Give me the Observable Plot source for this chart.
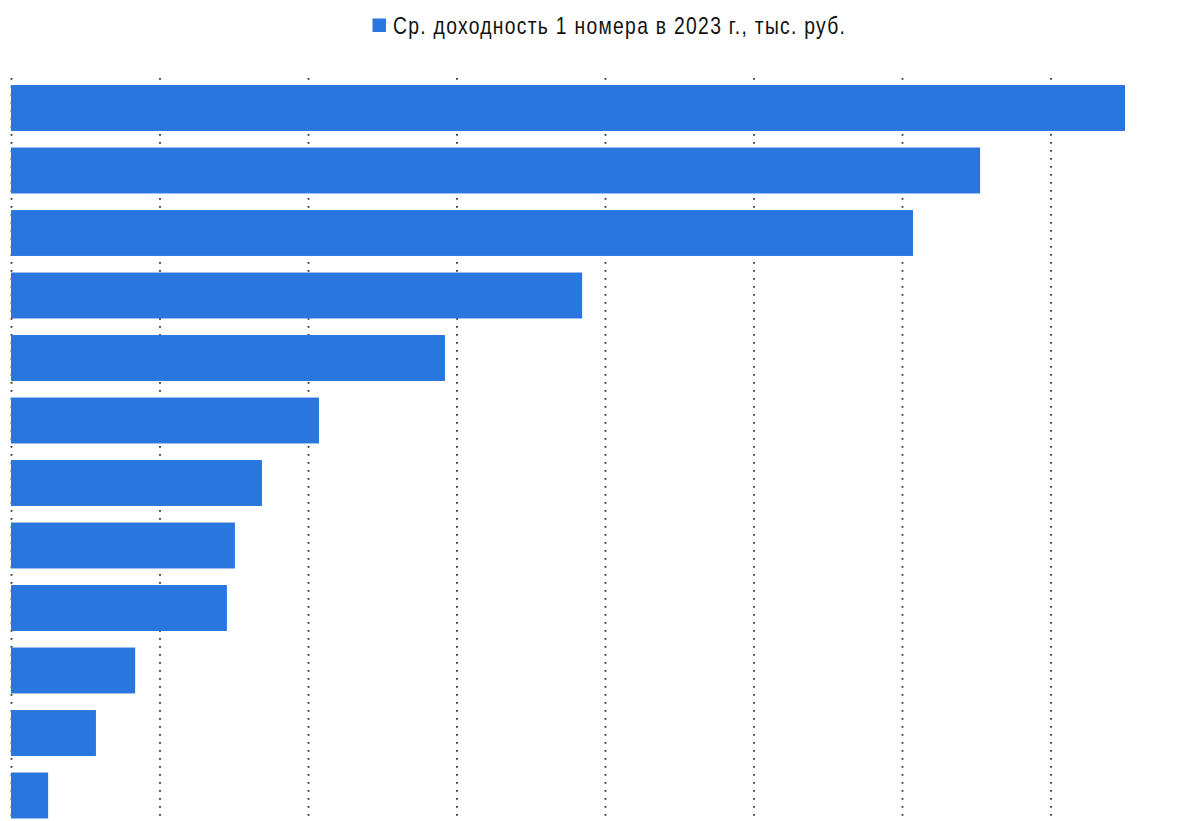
<!DOCTYPE html>
<html>
<head>
<meta charset="utf-8">
<script src="https://cdn.jsdelivr.net/npm/d3@7"></script>
<script src="https://cdn.jsdelivr.net/npm/@observablehq/plot@0.6"></script>
<style>
  html, body { margin: 0; padding: 0; background: #fff; overflow: hidden; width: 1189px; height: 821px; }
  #legend { position: absolute; left: 0; top: 0; }
  #chart { position: absolute; left: 0; top: 60px; }
</style>
</head>
<body>
<svg id="legend" width="1189" height="60" xmlns="http://www.w3.org/2000/svg">
  <rect x="372.5" y="18.5" width="13.5" height="13.5" fill="#2977DE"></rect>
  <text id="legendText" x="0" y="0" transform="translate(393,34.3) scale(0.84,1)"
        font-family="'Liberation Sans', Arial, sans-serif" font-size="23" fill="#111"
        lengthAdjust="spacing"></text>
</svg>
<div id="chart"></div>
<script>
const seriesName = "Ср. доходность 1 номера в 2023 г., тыс. руб.";
const categories = ["1", "2", "3", "4", "5", "6", "7", "8", "9", "10", "11", "12"];
const values = [3751, 3263, 3037, 1923, 1461, 1037, 845, 754, 727, 418, 286, 125];
const xTicks = [0, 500, 1000, 1500, 2000, 2500, 3000, 3500];

const lt = document.getElementById("legendText");
lt.textContent = seriesName;
lt.setAttribute("textLength", (452 / 0.84).toFixed(1));

const data = categories.map((c, i) => ({category: c, value: values[i]}));

const chart = Plot.plot({
  width: 1189,
  height: 767,
  marginTop: 18, marginBottom: 0, marginLeft: 0, marginRight: 0,
  x: {domain: [0, 3500], range: [11, 1050.5], axis: null},
  y: {domain: categories, range: [16.75, 766.75], paddingInner: 0.265, paddingOuter: 0.1325, round: false, axis: null},
  marks: [
    Plot.ruleX(xTicks, {x: d => d, stroke: "#333", strokeWidth: 1.8, strokeDasharray: "1.8 6.2"}),
    Plot.barX(data, {x: "value", y: "category", fill: "#2977DE"})
  ]
});
document.getElementById("chart").append(chart);
</script>
</body>
</html>
